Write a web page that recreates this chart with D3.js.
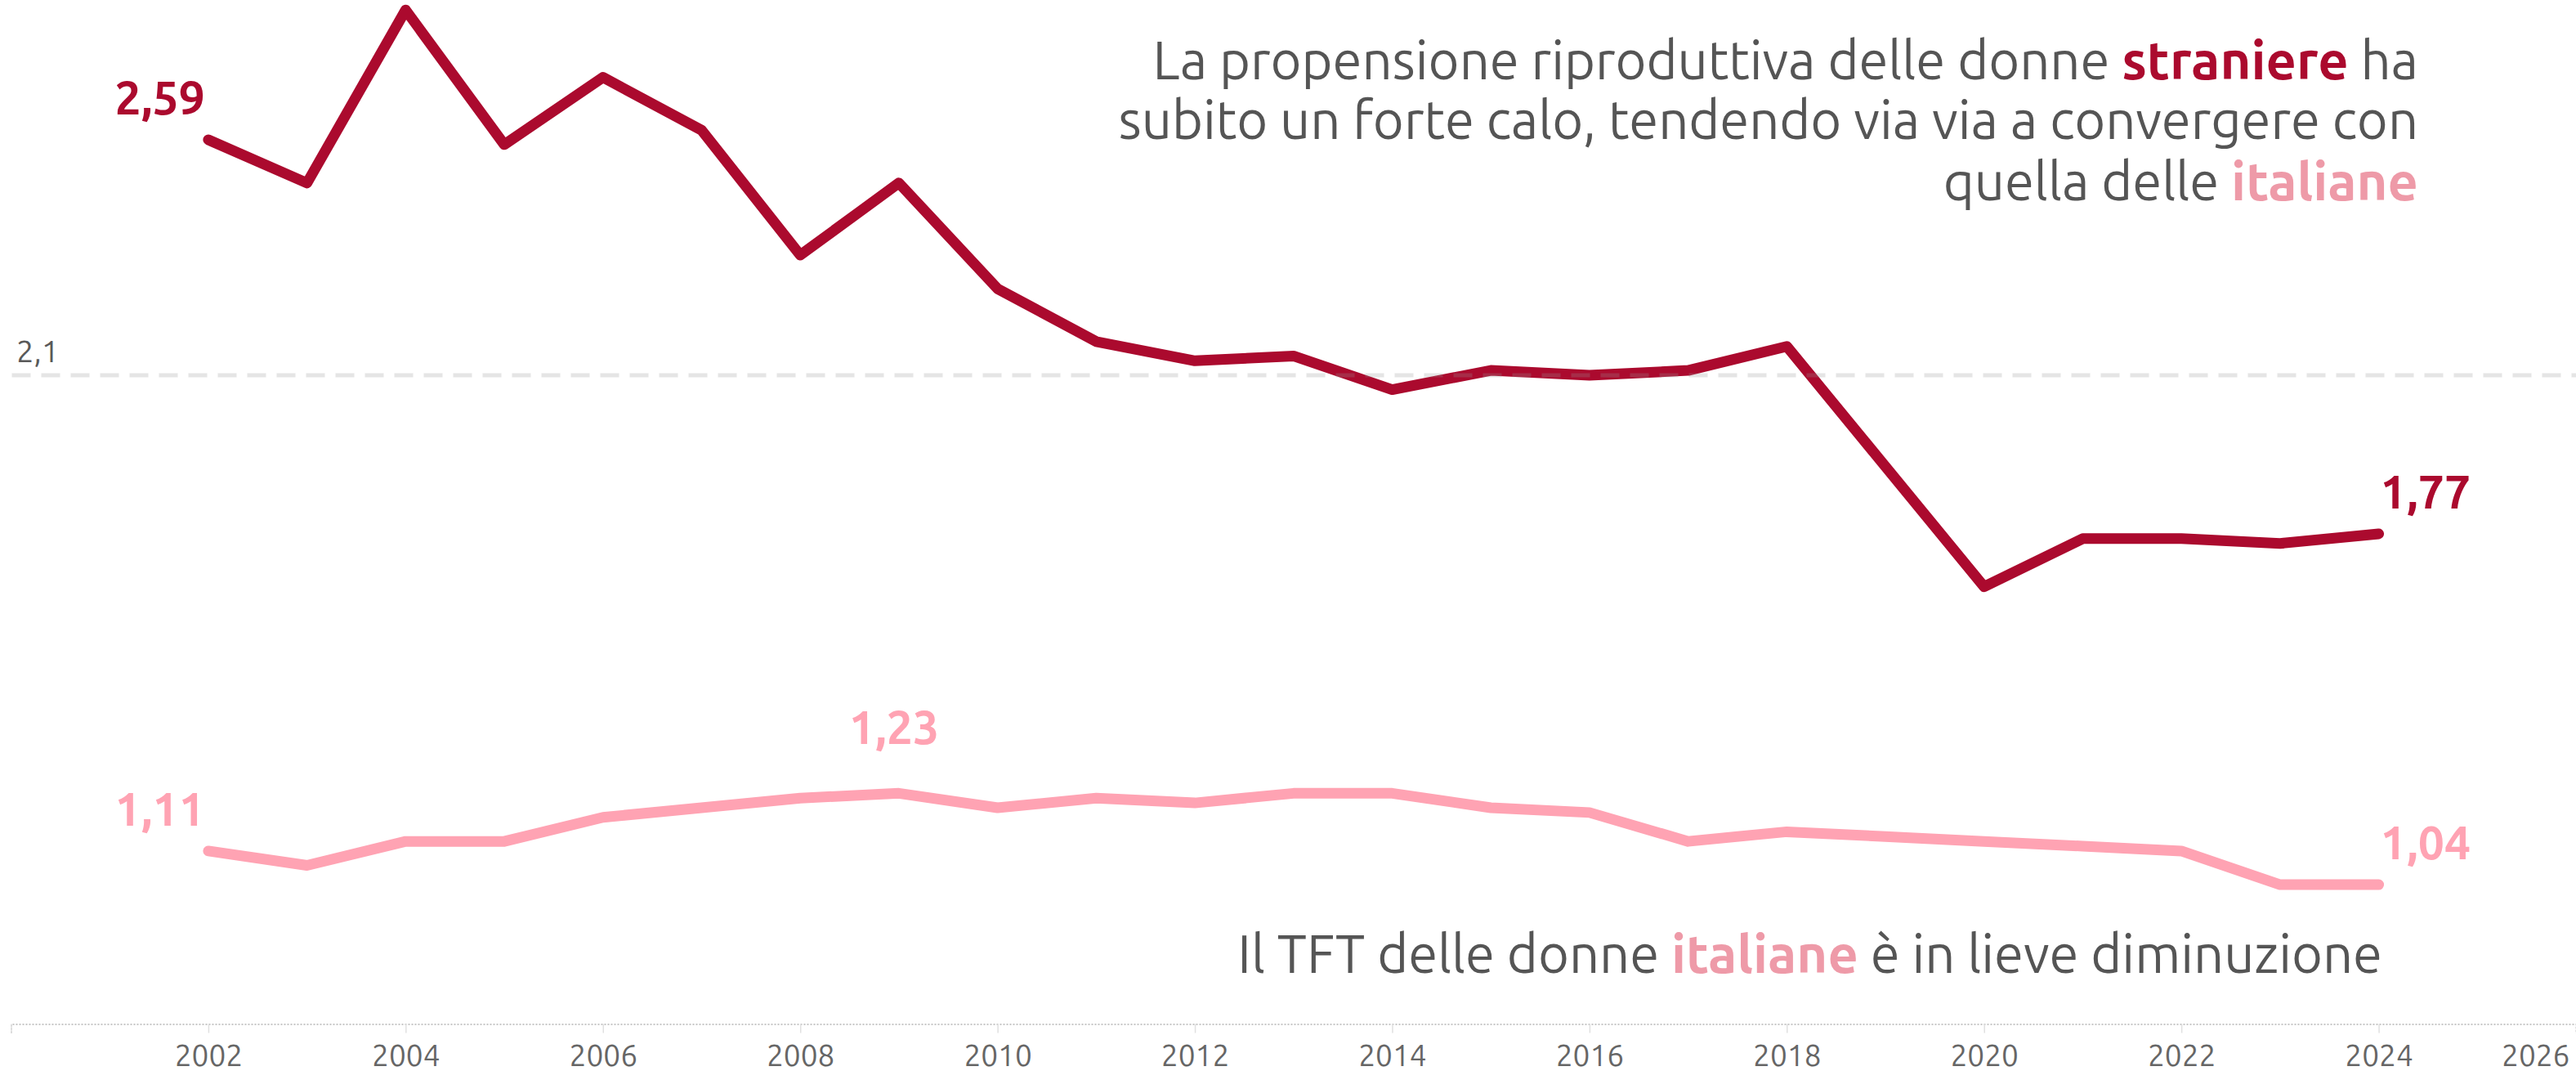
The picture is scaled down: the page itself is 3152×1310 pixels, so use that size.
<!DOCTYPE html>
<html>
<head>
<meta charset="utf-8">
<script src="https://cdn.jsdelivr.net/npm/d3@7"></script>
<style>
  html, body { margin: 0; padding: 0; background: #fff; }
  svg { display: block; }
  text { font-family: "Ubuntu", "Lato", sans-serif; }
</style>
</head>
<body>
<svg id="chart" width="3152" height="1310"></svg>
<script>
// ---- data ----
const years = [2002, 2003, 2004, 2005, 2006, 2007, 2008, 2009, 2010, 2011, 2012, 2013,
               2014, 2015, 2016, 2017, 2018, 2019, 2020, 2021, 2022, 2023, 2024];
const straniere = [2.59, 2.50, 2.86, 2.58, 2.72, 2.61, 2.35, 2.50, 2.28, 2.17, 2.13, 2.14,
                   2.07, 2.11, 2.10, 2.11, 2.16, 1.91, 1.66, 1.76, 1.76, 1.75, 1.77];
const italiane = [1.11, 1.08, 1.13, 1.13, 1.18, 1.20, 1.22, 1.23, 1.20, 1.22, 1.21, 1.23,
                  1.23, 1.20, 1.19, 1.13, 1.15, 1.14, 1.13, 1.12, 1.11, 1.04, 1.04];
const tickYears = [2000, 2002, 2004, 2006, 2008, 2010, 2012, 2014, 2016, 2018, 2020, 2022, 2024, 2026];
const tickLabels = ["", "2002", "2004", "2006", "2008", "2010", "2012", "2014", "2016", "2018", "2020", "2022", "2024", "2026"];
const refValue = 2.1;

// ---- setup ----
const W = 3152, H = 1310;
const svg = d3.select("#chart");
const MAROON = "#AB0A2E", PINK = "#FFA3B3", PINK_TXT = "#EE9AA8", GREY = "#555555";

const x = d3.scaleLinear().domain([2000, 2026]).range([13.5, 3152]);
const y = d3.scaleLinear().domain([0.75, 2.88]).range([1252.5, 0.5]);
const it = d3.formatLocale({decimal: ",", thousands: ".", grouping: [3], currency: ["€", ""]});
const fmt2 = it.format(".2f"), fmt1 = it.format(".1f");

// ---- x axis ----
const axis = d3.axisBottom(x).tickValues(tickYears)
  .tickFormat((d, i) => tickLabels[i]).tickSize(11).tickPadding(14);
const gx = svg.append("g").attr("transform", `translate(0,${y(0.75)})`).call(axis);
gx.select(".domain").attr("stroke", "#c8c8c8").attr("stroke-width", 2).attr("stroke-dasharray", "2,2");
gx.selectAll(".tick line").attr("stroke", "#e0e0e0").attr("stroke-width", 1.5);
gx.selectAll(".tick text").attr("fill", "#666").attr("font-size", 37)
  .style("font-family", '"Ubuntu","Lato",sans-serif');
gx.selectAll(".tick").filter(d => d === 2026).select("text")
  .attr("text-anchor", "end").attr("x", W - 8 - x(2026));

// ---- lines ----
const line = d3.line().x((d, i) => x(years[i])).y(d => y(d));
svg.append("path").datum(italiane).attr("d", line)
  .attr("fill", "none").attr("stroke", PINK).attr("stroke-width", 13)
  .attr("stroke-linejoin", "round").attr("stroke-linecap", "round");
svg.append("path").datum(straniere).attr("d", line)
  .attr("fill", "none").attr("stroke", MAROON).attr("stroke-width", 13)
  .attr("stroke-linejoin", "round").attr("stroke-linecap", "round");

// ---- reference line (drawn on top, translucent) ----
svg.append("line")
  .attr("x1", x(2000) + 1).attr("x2", W).attr("y1", y(refValue)).attr("y2", y(refValue))
  .attr("stroke", "#999").attr("stroke-opacity", 0.25).attr("stroke-width", 5)
  .attr("stroke-dasharray", "23,13");
svg.append("text").attr("x", 20).attr("y", y(refValue) - 16)
  .attr("font-size", 38).attr("fill", "#595959").text(fmt1(refValue));

// ---- value labels ----
function valueLabel(yr, arr, color, pos) {
  const i = years.indexOf(yr), v = arr[i];
  const t = svg.append("text").attr("font-size", 57).attr("font-weight", "bold")
    .attr("fill", color).text(fmt2(v));
  if (pos === "left") t.attr("x", x(yr) - 4).attr("y", y(v) - 31).attr("text-anchor", "end");
  else if (pos === "right") t.attr("x", x(yr) + 2).attr("y", y(v) - 31).attr("text-anchor", "start");
  else t.attr("x", x(yr) - 6).attr("y", y(v) - 60).attr("text-anchor", "middle");
}
valueLabel(2002, straniere, MAROON, "left");
valueLabel(2024, straniere, MAROON, "right");
valueLabel(2002, italiane, PINK, "left");
valueLabel(2009, italiane, PINK, "top");
valueLabel(2024, italiane, PINK, "right");

// ---- annotations ----
function annot(xr, yb, parts) {
  const t = svg.append("text").attr("x", xr).attr("y", yb).attr("text-anchor", "end")
    .attr("font-size", 65).attr("fill", GREY);
  parts.forEach(p => {
    const s = t.append("tspan").text(p.t);
    if (p.c) s.attr("fill", p.c).attr("font-weight", "bold");
  });
}
annot(2959, 97, [{t: "La propensione riproduttiva delle donne "}, {t: "straniere", c: MAROON}, {t: " ha"}]);
annot(2959, 170, [{t: "subito un forte calo, tendendo via via a convergere con"}]);
annot(2959, 245, [{t: "quella delle "}, {t: "italiane", c: PINK_TXT}]);
annot(2915, 1190, [{t: "Il TFT delle donne "}, {t: "italiane", c: PINK_TXT}, {t: " è in lieve diminuzione"}]);
</script>
</body>
</html>
